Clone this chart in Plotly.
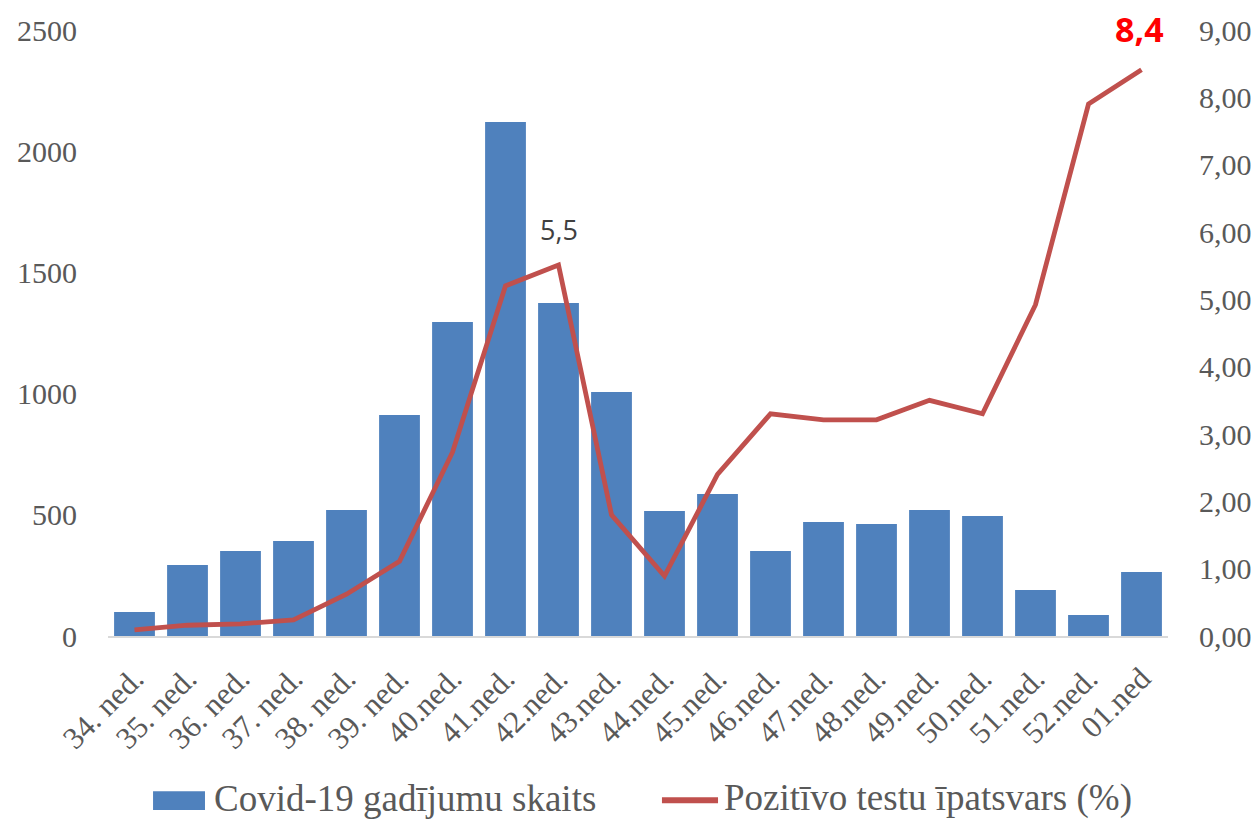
import plotly.graph_objects as go

weeks = ["34. ned.", "35. ned.", "36. ned.", "37. ned.", "38. ned.", "39. ned.",
         "40.ned.", "41.ned.", "42.ned.", "43.ned.", "44.ned.", "45.ned.",
         "46.ned.", "47.ned.", "48.ned.", "49.ned.", "50.ned.", "51.ned.",
         "52.ned.", "01.ned"]

cases = [99, 293, 351, 392, 520, 912, 1295, 2120, 1374, 1007,
         516, 586, 351, 470, 462, 520, 495, 190, 87, 264]
positive_pct = [0.09, 0.16, 0.18, 0.24, 0.62, 1.11, 2.73, 5.20, 5.51, 1.80,
                0.89, 2.40, 3.30, 3.21, 3.21, 3.50, 3.30, 4.92, 7.90, 8.41]

bar_name = "Covid-19 gadījumu skaits"
line_name = "Pozitīvo testu īpatsvars (%)"
bar_color = "#4F81BD"
line_color = "#C0504D"

grey = "#595959"
serif = "Liberation Serif, Times New Roman, serif"
tick_font = dict(family=serif, size=30, color=grey)
xtick_font = dict(family=serif, size=31, color=grey)

fig = go.Figure()
fig.add_trace(go.Bar(
    x=weeks, y=cases, name=bar_name,
    marker=dict(color=bar_color, line=dict(width=0)),
    yaxis="y",
))
fig.add_trace(go.Scatter(
    x=weeks, y=positive_pct, name=line_name,
    mode="lines", line=dict(color=line_color, width=4.8),
    yaxis="y2",
))

fig.add_annotation(x=weeks[8], y=positive_pct[8], yref="y2", text="5,5",
                   showarrow=False, yshift=35,
                   font=dict(family="Open Sans, DejaVu Sans, sans-serif", size=27, color="#404040"))
fig.add_annotation(x=weeks[-1], y=positive_pct[-1], yref="y2", text="<b>8,4</b>",
                   showarrow=False, yshift=41, xshift=-2,
                   font=dict(family="Open Sans, DejaVu Sans, sans-serif", size=34, color="#FF0000"))

# manual legend (paper coordinates)
fig.add_shape(type="rect", xref="paper", yref="paper",
              x0=0.0425, x1=0.0915, y0=-0.287, y1=-0.256,
              fillcolor=bar_color, line=dict(width=0))
fig.add_annotation(xref="paper", yref="paper", x=0.098, y=-0.268, text=bar_name,
                   showarrow=False, xanchor="left", yanchor="middle",
                   font=dict(family=serif, size=37, color=grey))
fig.add_shape(type="line", xref="paper", yref="paper",
              x0=0.5226, x1=0.5755, y0=-0.271, y1=-0.271,
              line=dict(color=line_color, width=6))
fig.add_annotation(xref="paper", yref="paper", x=0.579, y=-0.268, text=line_name,
                   showarrow=False, xanchor="left", yanchor="middle",
                   font=dict(family=serif, size=37, color=grey))

fig.update_layout(
    width=1258, height=819,
    margin=dict(l=108, r=90, t=30, b=183, autoexpand=False),
    paper_bgcolor="white", plot_bgcolor="white",
    separators=",.",
    bargap=0.23,
    showlegend=False,
    xaxis=dict(tickangle=-45, tickfont=xtick_font, showgrid=False, automargin=False,
               range=[-0.5, len(weeks) - 0.5],
               showline=True, linecolor="#D9D9D9", linewidth=2, ticks="",
               ticklabelstandoff=10),
    yaxis=dict(range=[0, 2500], dtick=500, showgrid=False, zeroline=False, automargin=False,
               tickfont=tick_font, ticks="", ticklabelstandoff=30),
    yaxis2=dict(range=[0, 9], dtick=1, tickformat=".2f", overlaying="y", side="right",
                showgrid=False, zeroline=False, tickfont=tick_font, ticks="", automargin=False,
                ticklabelstandoff=30),
)

# remove the default 8px page margin so the figure fills the window exactly
fig.write_html("out.html",
               config={"displayModeBar": False},
               post_script="document.body.style.margin='0px';document.body.style.overflow='hidden';")
